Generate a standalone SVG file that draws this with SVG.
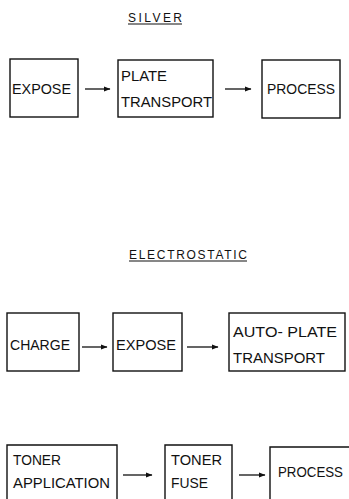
<svg xmlns="http://www.w3.org/2000/svg" width="349" height="499" viewBox="0 0 349 499">
<style>
.box{fill:none;stroke:#111;stroke-width:1.4}
.t{font-family:"Liberation Sans",Arial,sans-serif;font-size:15.5px;fill:#111}
.h{font-family:"Liberation Sans",Arial,sans-serif;font-size:12px;fill:#111}
.u{stroke:#111;stroke-width:1.2}
.c{stroke:#111;stroke-width:1.3;fill:none;marker-end:url(#ah)}
</style>
<defs>
<marker id="ah" markerWidth="7" markerHeight="6" refX="6" refY="3" orient="auto" markerUnits="userSpaceOnUse">
<path d="M0,0.5 L6.5,3 L0,5.5 Z" fill="#111"/>
</marker>
</defs>
<rect width="349" height="499" fill="#fff"/>
<g id="title-silver"><text class="h" x="128" y="22" textLength="54" lengthAdjust="spacing">SILVER</text><line class="u" x1="128" y1="24" x2="182" y2="24"/></g>
<g id="title-electrostatic"><text class="h" x="129" y="259" textLength="118" lengthAdjust="spacing">ELECTROSTATIC</text><line class="u" x1="129" y1="261" x2="247" y2="261"/></g>
<g id="silver-expose"><rect class="box" x="10" y="59" width="68" height="58"/><text class="t" x="12" y="94" textLength="59" lengthAdjust="spacingAndGlyphs">EXPOSE</text></g>
<g id="silver-plate"><rect class="box" x="118" y="60" width="95" height="57"/><text class="t" x="121" y="81" textLength="46" lengthAdjust="spacingAndGlyphs">PLATE</text><text class="t" x="121" y="107" textLength="91" lengthAdjust="spacingAndGlyphs">TRANSPORT</text></g>
<g id="silver-process"><rect class="box" x="262" y="60" width="78" height="58"/><text class="t" x="267" y="94" textLength="68" lengthAdjust="spacingAndGlyphs">PROCESS</text></g>
<g id="es-charge"><rect class="box" x="7" y="313" width="72" height="58"/><text class="t" x="10" y="350" textLength="60" lengthAdjust="spacingAndGlyphs">CHARGE</text></g>
<g id="es-expose"><rect class="box" x="113" y="313" width="69" height="58"/><text class="t" x="116" y="350" textLength="60" lengthAdjust="spacingAndGlyphs">EXPOSE</text></g>
<g id="es-autoplate"><rect class="box" x="229" y="313" width="116" height="58"/><text class="t" x="233" y="337" textLength="104" lengthAdjust="spacingAndGlyphs">AUTO- PLATE</text><text class="t" x="233" y="363" textLength="92" lengthAdjust="spacingAndGlyphs">TRANSPORT</text></g>
<g id="es-toner-app"><path class="box" d="M7,500 V445 H117 V500"/><text class="t" x="13" y="465" textLength="48" lengthAdjust="spacingAndGlyphs">TONER</text><text class="t" x="13" y="488" textLength="97" lengthAdjust="spacingAndGlyphs">APPLICATION</text></g>
<g id="es-toner-fuse"><path class="box" d="M165,500 V445 H232 V500"/><text class="t" x="171" y="465" textLength="51" lengthAdjust="spacingAndGlyphs">TONER</text><text class="t" x="171" y="488" textLength="37" lengthAdjust="spacingAndGlyphs">FUSE</text></g>
<g id="es-process"><path class="box" d="M270,500 V447 H349"/><text class="t" x="278" y="477" font-size="14.2" textLength="65" lengthAdjust="spacingAndGlyphs" style="font-size:14.2px">PROCESS</text></g>
<g id="connectors">
<line class="c" x1="85" y1="89" x2="110" y2="89"/>
<line class="c" x1="225" y1="89" x2="251" y2="89"/>
<line class="c" x1="82" y1="347" x2="107" y2="347"/>
<line class="c" x1="187" y1="347" x2="218" y2="347"/>
<line class="c" x1="123" y1="475" x2="152" y2="475"/>
<line class="c" x1="239" y1="475" x2="265" y2="475"/>
</g>
</svg>
